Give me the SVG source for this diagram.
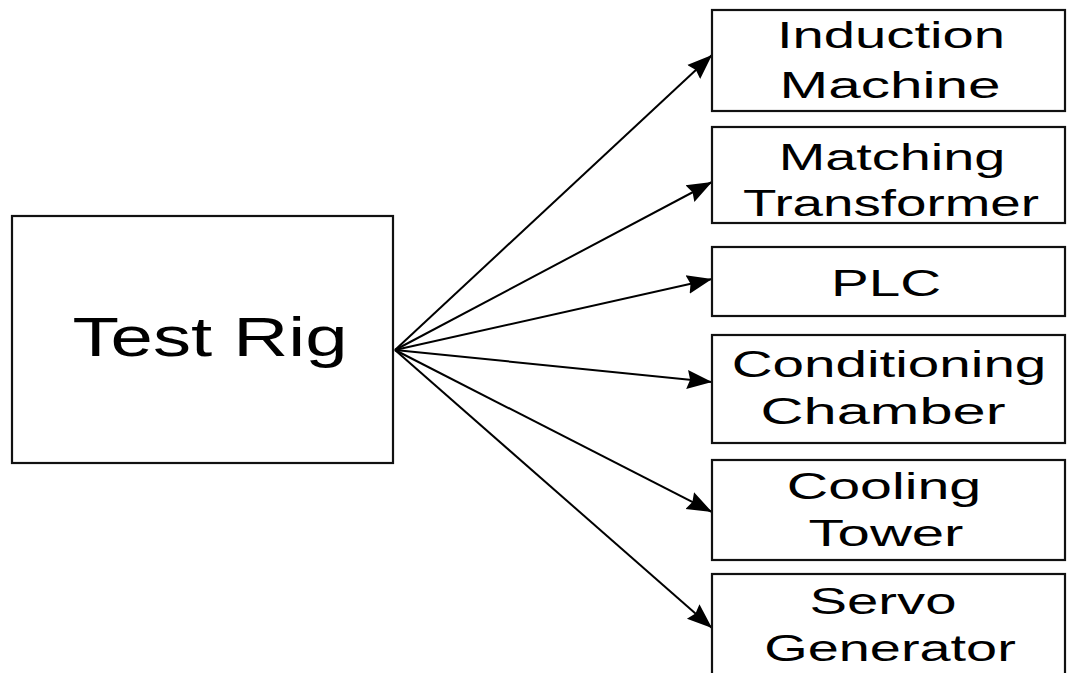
<svg xmlns="http://www.w3.org/2000/svg" width="1068" height="673" viewBox="0 0 1068 673">
<style>
.box{fill:#fff;stroke:#111;stroke-width:2.2}
.lbl{font-family:"Liberation Sans",Arial,sans-serif;font-size:37px;fill:#000;text-anchor:middle}
.big{font-family:"Liberation Sans",Arial,sans-serif;font-size:56px;fill:#000;text-anchor:middle}
.con{stroke:#000;stroke-width:2;fill:none;marker-end:url(#arr)}
</style>
<defs>
<marker id="arr" markerUnits="userSpaceOnUse" markerWidth="26" markerHeight="22" refX="25" refY="11" orient="auto">
<path d="M0,1.5 L25,11 L0,20.5 L3,11 z" fill="#000"/>
</marker>
</defs>
<rect width="1068" height="673" fill="#fff"/>
<g id="connectors">
<line class="con" x1="395" y1="350" x2="712" y2="55"/>
<line class="con" x1="395" y1="350" x2="712" y2="182"/>
<line class="con" x1="395" y1="350" x2="712" y2="279"/>
<line class="con" x1="395" y1="350" x2="712" y2="382"/>
<line class="con" x1="395" y1="350" x2="712" y2="512"/>
<line class="con" x1="395" y1="350" x2="712" y2="628"/>
</g>
<g id="test-rig">
<rect class="box" x="12" y="216" width="381" height="247"/>
<text class="big" transform="translate(210 356) scale(1.36 1)">Test Rig</text>
</g>
<g id="induction-machine">
<rect class="box" x="712" y="10" width="353" height="101"/>
<text class="lbl" transform="translate(891 48) scale(1.52 1)">Induction</text>
<text class="lbl" transform="translate(890 98) scale(1.58 1)">Machine</text>
</g>
<g id="matching-transformer">
<rect class="box" x="712" y="127" width="353" height="96"/>
<text class="lbl" transform="translate(892 170) scale(1.51 1)">Matching</text>
<text class="lbl" transform="translate(891 216) scale(1.48 1)">Transformer</text>
</g>
<g id="plc">
<rect class="box" x="712" y="247" width="353" height="69"/>
<text class="lbl" transform="translate(886 296) scale(1.53 1)">PLC</text>
</g>
<g id="conditioning-chamber">
<rect class="box" x="712" y="335" width="353" height="108"/>
<text class="lbl" transform="translate(889 377) scale(1.53 1)">Conditioning</text>
<text class="lbl" transform="translate(883 424) scale(1.61 1)">Chamber</text>
</g>
<g id="cooling-tower">
<rect class="box" x="712" y="460" width="353" height="100"/>
<text class="lbl" transform="translate(884 499) scale(1.55 1)">Cooling</text>
<text class="lbl" transform="translate(886 546) scale(1.57 1)">Tower</text>
</g>
<g id="servo-generator">
<rect class="box" x="712" y="574" width="353" height="110"/>
<text class="lbl" transform="translate(883 614) scale(1.52 1)">Servo</text>
<text class="lbl" transform="translate(890 661) scale(1.51 1)">Generator</text>
</g>
</svg>
